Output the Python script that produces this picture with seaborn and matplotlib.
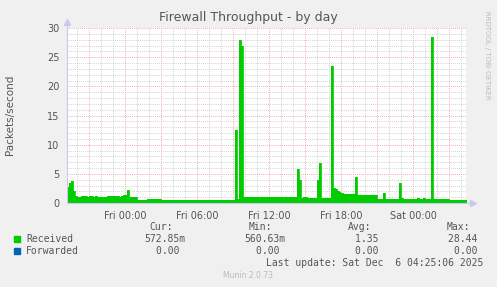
import numpy as np
import pandas as pd
import matplotlib
matplotlib.use("Agg")
import matplotlib.pyplot as plt
import matplotlib.dates as mdates
from matplotlib.ticker import MultipleLocator, FuncFormatter
from matplotlib.patches import Rectangle
import seaborn as sns

# ---------------- data ----------------
title = "Firewall Throughput - by day"
y_label = "Packets/second"
series_names = ["Received", "Forwarded"]
series_colors = ["#00CC00", "#0066B3"]
stat_headers = ["Cur:", "Min:", "Avg:", "Max:"]
received_stats = ["572.85m", "560.63m", "1.35", "28.44"]
forwarded_stats = ["0.00", "0.00", "0.00", "0.00"]
last_update = "Last update: Sat Dec  6 04:25:06 2025"
footer = "Munin 2.0.73"
side_text = "RRDTOOL / TOBI OETIKER"
series_start = "2025-12-04 19:00"
view_start = "2025-12-04 19:10"
view_end = "2025-12-06 04:25"
y_max = 30

# received packets/second, one value per 10 minutes, one row per hour
received = [
    2.8, 2.8, 3.4, 3.8, 2.0, 1.2,        # Thu 19
    1.1, 1.1, 1.2, 1.15, 1.2, 1.1,       # Thu 20
    1.15, 1.2, 1.1, 1.15, 1.1, 1.0,      # Thu 21
    1.0, 1.0, 1.0, 1.15, 1.15, 1.2,      # Thu 22
    1.15, 1.2, 1.15, 1.1, 1.15, 1.3,     # Thu 23
    1.3, 2.3, 0.95, 0.95, 0.95, 0.95,    # Fri 00
    0.55, 0.55, 0.55, 0.55, 0.55, 0.75,  # Fri 01
    0.75, 0.75, 0.75, 0.75, 0.75, 0.75,  # Fri 02
    0.57, 0.57, 0.57, 0.57, 0.57, 0.57,  # Fri 03
    0.57, 0.57, 0.57, 0.57, 0.57, 0.57,  # Fri 04
    0.57, 0.57, 0.57, 0.57, 0.57, 0.57,  # Fri 05
    0.57, 0.57, 0.57, 0.57, 0.57, 0.57,  # Fri 06
    0.57, 0.57, 0.57, 0.57, 0.57, 0.57,  # Fri 07
    0.57, 0.57, 0.57, 0.57, 0.57, 0.57,  # Fri 08
    0.57, 12.5, 0.6, 28.0, 27.0, 1.0,    # Fri 09
    1.0, 1.05, 1.0, 1.0, 1.05, 1.0,      # Fri 10
    1.0, 1.0, 1.05, 1.0, 1.0, 1.0,       # Fri 11
    1.0, 1.05, 1.0, 1.0, 1.0, 1.05,      # Fri 12
    1.0, 1.0, 1.0, 1.05, 1.0, 1.0,       # Fri 13
    1.0, 1.0, 5.8, 3.9, 0.9, 0.95,       # Fri 14
    1.0, 0.9, 0.9, 0.9, 0.9, 0.9,        # Fri 15
    4.0, 6.8, 0.9, 0.9, 0.9, 0.9,        # Fri 16
    0.9, 23.5, 2.6, 2.4, 2.0, 1.8,       # Fri 17
    1.7, 1.5, 1.5, 1.6, 1.5, 1.5,        # Fri 18
    1.5, 4.5, 1.35, 1.4, 1.35, 1.35,     # Fri 19
    1.4, 1.35, 1.35, 1.3, 1.35, 1.3,     # Fri 20
    0.65, 0.65, 0.65, 1.65, 0.65, 0.65,  # Fri 21
    0.65, 0.65, 0.65, 0.7, 0.65, 3.5,    # Fri 22
    0.9, 0.75, 0.75, 0.7, 0.7, 0.7,      # Fri 23
    0.75, 0.7, 0.85, 0.7, 0.7, 0.9,      # Sat 00
    0.7, 0.7, 0.7, 28.4, 0.75, 0.7,      # Sat 01
    0.7, 0.7, 0.7, 0.7, 0.7, 0.7,        # Sat 02
    0.57, 0.57, 0.57, 0.57, 0.57, 0.57,  # Sat 03
    0.57, 0.57, 0.57, 0.57,              # Sat 04
]
forwarded = [0.0] * len(received)

# ---------------- figure ----------------
sns.set_style("white")
plt.rcParams["font.family"] = ["DejaVu Sans"]

W, H = 497, 287
fig = plt.figure(figsize=(W / 100, H / 100), dpi=100, facecolor="#F0F0F0")
L, R, T, B = 67, 466, 28, 203
ax = fig.add_axes([L / W, 1 - B / H, (R - L) / W, (B - T) / H])
ax.set_facecolor("white")

times = pd.date_range(series_start, periods=len(received), freq="10min")
df = pd.DataFrame({"time": times, "Received": received, "Forwarded": forwarded})

ax.fill_between(df["time"], df["Received"], step="post", color=series_colors[0],
                lw=0, zorder=3)
sns.lineplot(data=df, x="time", y="Received", ax=ax, color=series_colors[0],
             lw=0.6, drawstyle="steps-post", zorder=4)
sns.lineplot(data=df, x="time", y="Forwarded", ax=ax, color=series_colors[1],
             lw=0.6, drawstyle="steps-post", zorder=2)

ax.set_xlim(pd.Timestamp(view_start), pd.Timestamp(view_end))
ax.set_ylim(0, y_max)
ax.set_xlabel("")
ax.set_ylabel("")

# grid / ticks
ax.xaxis.set_major_locator(mdates.HourLocator(byhour=range(0, 24, 3)))
ax.xaxis.set_minor_locator(mdates.HourLocator(interval=1))
ax.xaxis.set_major_formatter(
    FuncFormatter(lambda v, p: mdates.num2date(v).strftime("%a %H:%M")
                  if mdates.num2date(v).hour % 6 == 0 else ""))
ax.yaxis.set_major_locator(MultipleLocator(5))
ax.yaxis.set_minor_locator(MultipleLocator(1))

ax.set_axisbelow(True)
ax.grid(which="minor", color="#BDBDBD", ls=(0, (1, 1.5)), lw=0.55)
ax.grid(which="major", color="#E79595", ls=(0, (1, 1.5)), lw=0.6)

txt_col = "#555555"
ax.tick_params(axis="both", which="major", labelsize=7, labelcolor=txt_col,
               length=2.5, width=0.6)
ax.tick_params(axis="x", which="major", color="#E07070", pad=3)
ax.tick_params(axis="y", which="major", color="#999999", pad=3)
ax.tick_params(axis="both", which="minor", length=1.5, width=0.5, color="#BBBBBB")

for s in ["top", "right"]:
    ax.spines[s].set_visible(False)
for s in ["left", "bottom"]:
    ax.spines[s].set_color("#C8C8F0")
    ax.spines[s].set_linewidth(0.8)
    ax.spines[s].set_zorder(5)

# axis arrows
ax.plot([1.0, 1.015], [0, 0], transform=ax.transAxes, color="#C8C8F0", lw=0.8, clip_on=False)
ax.plot([1.018], [0], marker=">", ms=5, color="#C8C8F0", transform=ax.transAxes, clip_on=False)
ax.plot([0, 0], [1.0, 1.03], transform=ax.transAxes, color="#C8C8F0", lw=0.8, clip_on=False)
ax.plot([0], [1.035], marker="^", ms=5, color="#C8C8F0", transform=ax.transAxes, clip_on=False)

# title / labels
fig.text(248 / W, 1 - 18 / H, title, ha="center", va="center", fontsize=9, color=txt_col)
fig.text(10 / W, 1 - 115 / H, y_label, ha="center", va="center", rotation=90,
         fontsize=7.5, color=txt_col)
fig.text(487 / W, 1 - 55 / H, side_text, ha="center", va="center", rotation=270,
         fontsize=5, color="#BBBBBB")

# legend
mono = "DejaVu Sans Mono"
fs = 7
header_right = [173, 272, 371, 470]
value_right = [185, 285, 384, 483]
for hx, h in zip(header_right, stat_headers):
    fig.text(hx / W, 1 - 227 / H, h, ha="right", va="center", family=mono,
             fontsize=fs, color=txt_col)

def fmt(v):
    return v if v[-1].isalpha() else v + " "

rows = [(received_stats, 239), (forwarded_stats, 251)]
for (stats, yy), name, col in zip(rows, series_names, series_colors):
    fig.patches.append(Rectangle((14 / W, 1 - (yy + 3) / H), 6 / W, 6 / H,
                                 transform=fig.transFigure, color=col))
    fig.text(26 / W, 1 - yy / H, name, ha="left", va="center", family=mono,
             fontsize=fs, color=txt_col)
    for vx, v in zip(value_right, stats):
        fig.text(vx / W, 1 - yy / H, fmt(v), ha="right", va="center", family=mono,
                 fontsize=fs, color=txt_col)

fig.text(483 / W, 1 - 263 / H, last_update, ha="right", va="center", family=mono,
         fontsize=fs, color=txt_col)
fig.text(248 / W, 1 - 276 / H, footer, ha="center", va="center", fontsize=5.5,
         color="#BBBBBB")

fig.savefig("out.png", dpi=100, facecolor=fig.get_facecolor())
